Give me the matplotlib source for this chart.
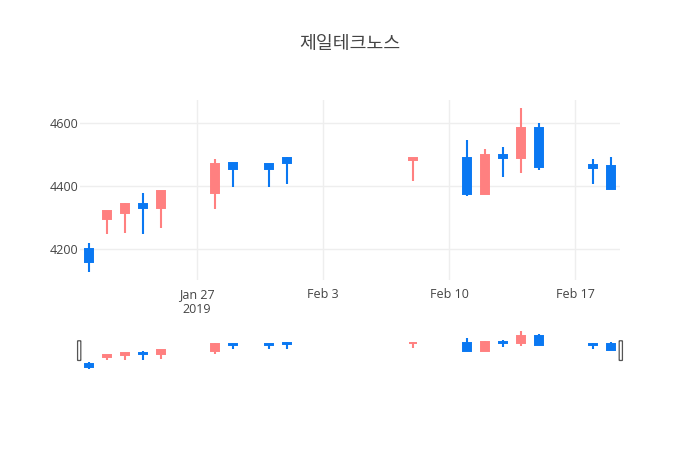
import matplotlib.pyplot as plt
import matplotlib.dates as mdates
from matplotlib.patches import FancyBboxPatch
import pandas as pd

plt.rcParams['font.family'] = ['Open Sans', 'Noto Sans CJK KR', 'DejaVu Sans']

# 일별 시세 (읽어낸 값)
dates = ["2019-01-21", "2019-01-22", "2019-01-23", "2019-01-24", "2019-01-25",
         "2019-01-28", "2019-01-29", "2019-01-31", "2019-02-01", "2019-02-08",
         "2019-02-11", "2019-02-12", "2019-02-13", "2019-02-14", "2019-02-15",
         "2019-02-18", "2019-02-19"]
opens = [4200, 4295, 4315, 4345, 4330, 4380, 4473, 4470, 4490, 4483,
         4490, 4375, 4500, 4490, 4585, 4468, 4465]
highs = [4221, 4320, 4346, 4378, 4386, 4488, 4475, 4472, 4492, 4491,
         4547, 4517, 4526, 4648, 4600, 4488, 4493]
lows = [4128, 4248, 4251, 4248, 4268, 4329, 4398, 4398, 4407, 4417,
        4370, 4375, 4428, 4443, 4453, 4407, 4390]
closes = [4160, 4320, 4345, 4330, 4385, 4470, 4455, 4455, 4475, 4490,
          4375, 4500, 4490, 4585, 4460, 4458, 4390]

tick_dates = ["2019-01-27", "2019-02-03", "2019-02-10", "2019-02-17"]
tick_labels = ["Jan 27\n2019", "Feb 3", "Feb 10", "Feb 17"]
y_ticks = [4200, 4400, 4600]
title = "제일테크노스"

UP = '#ff8080'
DOWN = '#0a78f2'

x = mdates.date2num(pd.to_datetime(dates))
x_range = mdates.date2num(pd.to_datetime(["2019-01-20 12:00", "2019-02-19 12:00"]))
pad = (max(highs) - min(lows)) * 0.05
y_range = (min(lows) - pad, max(highs) + pad)


def draw_candles(ax):
    for xi, o, h, l, c in zip(x, opens, highs, lows, closes):
        col = UP if c >= o else DOWN
        ax.plot([xi, xi], [l, h], color=col, lw=1.5, solid_capstyle='butt', zorder=2)
        ax.bar(xi, abs(c - o), bottom=min(o, c), width=0.48, color=col,
               edgecolor=col, linewidth=1.4, zorder=3)
    ax.set_xlim(*x_range)
    ax.set_ylim(*y_range)


fig = plt.figure(figsize=(7, 4.5), dpi=100)
ax = fig.add_axes([80 / 700, 170 / 450, 540 / 700, 180 / 450])
draw_candles(ax)
for s in ax.spines.values():
    s.set_visible(False)
ax.set_xticks(mdates.date2num(pd.to_datetime(tick_dates)))
ax.set_xticklabels(tick_labels)
ax.set_yticks(y_ticks)
ax.grid(True, color='#eeeeee', lw=1)
ax.set_axisbelow(True)
ax.tick_params(length=0, labelsize=9, colors='#444444')
ax.tick_params(axis='x', pad=6)
ax.tick_params(axis='y', pad=1)

# 범위 슬라이더
ax2 = fig.add_axes([80 / 700, 79 / 450, 540 / 700, 42 / 450])
draw_candles(ax2)
ax2.axis('off')
for hx in (-0.0045, 0.9985):
    ax2.add_patch(FancyBboxPatch((hx, 0.25), 0.006, 0.47, boxstyle='round,pad=0,rounding_size=0.003',
                                 transform=ax2.transAxes, facecolor='white', edgecolor='#555555',
                                 lw=0.9, clip_on=False, zorder=5))

fig.text(0.5, 1 - 44 / 450, title, ha='center', va='center', fontsize=13.2,
         color='#444444', family=['Noto Sans CJK KR', 'DejaVu Sans'])

fig.savefig('out.png', dpi=100)
